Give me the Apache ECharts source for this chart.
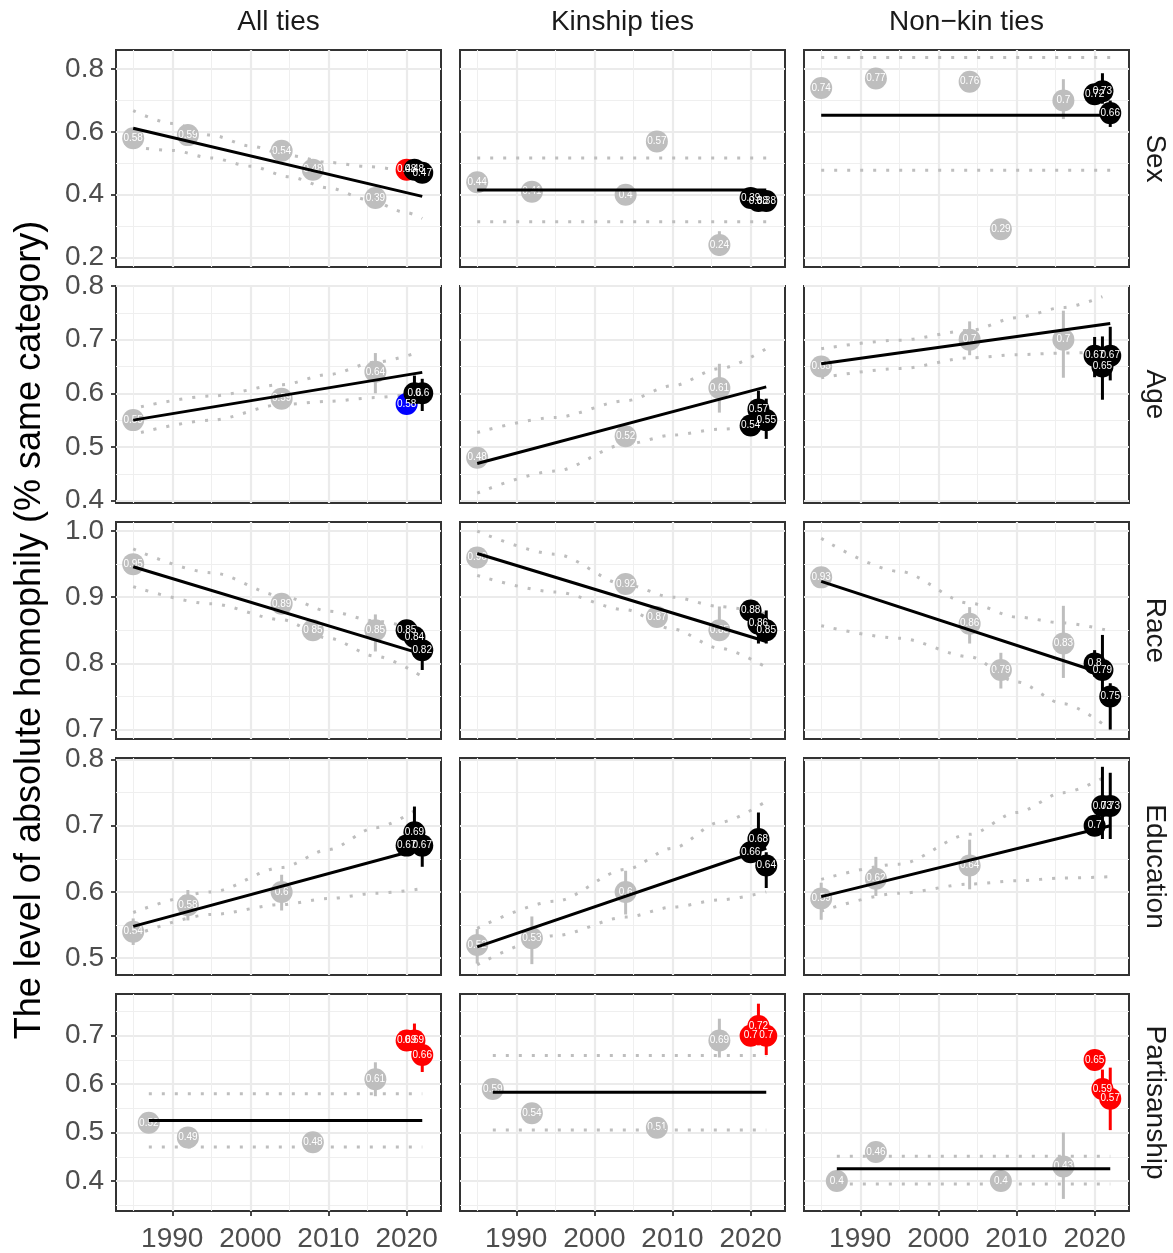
<!DOCTYPE html>
<html><head><meta charset="utf-8">
<script src="https://cdn.jsdelivr.net/npm/echarts@6/dist/echarts.min.js"></script>
<style>html,body{margin:0;padding:0;background:#fff}#c{width:1173px;height:1253px}</style>
</head><body><div id="c"></div>
<script>
// ---------- facet labels & ticks ----------
const rowNames = ['Sex', 'Age', 'Race', 'Education', 'Partisanship'];
const colNames = ['All ties', 'Kinship ties', 'Non\u2212kin ties'];
const yTitle = 'The level of absolute homophily (% same category)';
const xMajor = [1990, 2000, 2010, 2020];
const xMinor = [1985, 1995, 2005, 2015];
const xLimits = [1982.8, 2024.4];
const rowYMin = [0.17, 0.3955, 0.6857, 0.4746, 0.338];
const rowYMax = [0.861, 0.80, 1.0137, 0.8023, 0.786];
const rowYMajor = [[0.2, 0.4, 0.6, 0.8], [0.4, 0.5, 0.6, 0.7, 0.8], [0.7, 0.8, 0.9, 1.0], [0.5, 0.6, 0.7, 0.8], [0.4, 0.5, 0.6, 0.7]];
const rowYMinor = [[0.3, 0.5, 0.7], [0.45, 0.55, 0.65, 0.75], [0.75, 0.85, 0.95], [0.55, 0.65, 0.75], [0.35, 0.45, 0.55, 0.65, 0.75]];

// ---------- panel data (g = earlier survey, k/r/b = recent survey colour) ----------
const sexAll = {
  years: [1985, 1992, 2004, 2008, 2016, 2020, 2021, 2022],
  values: [0.58, 0.59, 0.54, 0.48, 0.39, 0.48, 0.48, 0.47],
  lo: [0.565, 0.575, 0.525, 0.465, 0.365, 0.465, 0.46, 0.455],
  hi: [0.595, 0.605, 0.555, 0.495, 0.415, 0.495, 0.50, 0.485],
  kind: ['g', 'g', 'g', 'g', 'g', 'r', 'k', 'k'],
  fitYears: [1985, 2022], fit: [0.612, 0.395],
  bandYears: [1985, 1990, 1995, 2000, 2005, 2010, 2015, 2020, 2022],
  upper: [0.668, 0.627, 0.59, 0.555, 0.525, 0.503, 0.49, 0.478, 0.472],
  lower: [0.552, 0.541, 0.517, 0.491, 0.457, 0.422, 0.385, 0.343, 0.325]
};
const sexKin = {
  years: [1985, 1992, 2004, 2008, 2016, 2020, 2021, 2022],
  values: [0.44, 0.41, 0.40, 0.57, 0.24, 0.39, 0.38, 0.38],
  lo: [0.425, 0.395, 0.385, 0.555, 0.205, 0.375, 0.36, 0.365],
  hi: [0.455, 0.425, 0.415, 0.585, 0.284, 0.405, 0.40, 0.395],
  kind: ['g', 'g', 'g', 'g', 'g', 'k', 'k', 'k'],
  fitYears: [1985, 2022], fit: [0.415, 0.415],
  bandYears: [1985, 2022], upper: [0.517, 0.517], lower: [0.314, 0.314]
};
const sexNonkin = {
  years: [1985, 1992, 2004, 2008, 2016, 2020, 2021, 2022],
  values: [0.74, 0.77, 0.76, 0.29, 0.70, 0.72, 0.73, 0.66],
  lo: [0.725, 0.755, 0.745, 0.275, 0.641, 0.705, 0.69, 0.616],
  hi: [0.755, 0.785, 0.775, 0.305, 0.768, 0.735, 0.787, 0.70],
  kind: ['g', 'g', 'g', 'g', 'g', 'k', 'k', 'k'],
  fitYears: [1985, 2022], fit: [0.653, 0.653],
  bandYears: [1985, 2022], upper: [0.837, 0.837], lower: [0.478, 0.478]
};
const ageAll = {
  years: [1985, 2004, 2016, 2020, 2021, 2022],
  values: [0.55, 0.59, 0.64, 0.58, 0.60, 0.60],
  lo: [0.54, 0.575, 0.60, 0.57, 0.57, 0.567],
  hi: [0.56, 0.605, 0.675, 0.59, 0.633, 0.627],
  kind: ['g', 'g', 'g', 'b', 'k', 'k'],
  fitYears: [1985, 2022], fit: [0.55, 0.639],
  bandYears: [1986, 1995, 2004, 2010, 2016, 2021],
  upper: [0.575, 0.595, 0.616, 0.635, 0.658, 0.674],
  lower: [0.527, 0.55, 0.579, 0.585, 0.592, 0.60]
};
const ageKin = {
  years: [1985, 2004, 2016, 2020, 2021, 2022],
  values: [0.48, 0.52, 0.61, 0.54, 0.57, 0.55],
  lo: [0.464, 0.50, 0.564, 0.53, 0.545, 0.515],
  hi: [0.49, 0.535, 0.655, 0.55, 0.605, 0.59],
  kind: ['g', 'g', 'g', 'k', 'k', 'k'],
  fitYears: [1985, 2022], fit: [0.469, 0.612],
  bandYears: [1985, 1995, 2004, 2010, 2016, 2022],
  upper: [0.527, 0.555, 0.586, 0.614, 0.646, 0.683],
  lower: [0.414, 0.455, 0.505, 0.522, 0.533, 0.541]
};
const ageNonkin = {
  years: [1985, 2004, 2016, 2020, 2021, 2022],
  values: [0.65, 0.70, 0.70, 0.67, 0.65, 0.67],
  lo: [0.64, 0.671, 0.629, 0.63, 0.588, 0.624],
  hi: [0.665, 0.734, 0.754, 0.705, 0.706, 0.724],
  kind: ['g', 'g', 'g', 'k', 'k', 'k'],
  fitYears: [1985, 2022], fit: [0.655, 0.73],
  bandYears: [1985, 1995, 2004, 2010, 2016, 2021],
  upper: [0.683, 0.699, 0.717, 0.741, 0.76, 0.78],
  lower: [0.629, 0.646, 0.666, 0.672, 0.675, 0.677]
};
const raceAll = {
  years: [1985, 2004, 2008, 2016, 2020, 2021, 2022],
  values: [0.95, 0.89, 0.85, 0.85, 0.85, 0.84, 0.82],
  lo: [0.94, 0.875, 0.84, 0.818, 0.84, 0.825, 0.79],
  hi: [0.96, 0.905, 0.86, 0.874, 0.865, 0.855, 0.835],
  kind: ['g', 'g', 'g', 'g', 'k', 'k', 'k'],
  fitYears: [1985, 2022], fit: [0.946, 0.814],
  bandYears: [1985, 1995, 2004, 2010, 2016, 2022],
  upper: [0.973, 0.937, 0.902, 0.879, 0.864, 0.849],
  lower: [0.916, 0.89, 0.866, 0.838, 0.811, 0.78]
};
const raceKin = {
  years: [1985, 2004, 2008, 2016, 2020, 2021, 2022],
  values: [0.96, 0.92, 0.87, 0.85, 0.88, 0.86, 0.85],
  lo: [0.95, 0.905, 0.86, 0.836, 0.87, 0.83, 0.83],
  hi: [0.97, 0.93, 0.88, 0.886, 0.89, 0.865, 0.88],
  kind: ['g', 'g', 'g', 'g', 'k', 'k', 'k'],
  fitYears: [1985, 2022], fit: [0.966, 0.833],
  bandYears: [1985, 1995, 2004, 2010, 2016, 2022],
  upper: [1.0, 0.965, 0.919, 0.90, 0.886, 0.875],
  lower: [0.933, 0.908, 0.881, 0.852, 0.823, 0.794]
};
const raceNonkin = {
  years: [1985, 2004, 2008, 2016, 2020, 2021, 2022],
  values: [0.93, 0.86, 0.79, 0.83, 0.80, 0.79, 0.75],
  lo: [0.92, 0.83, 0.762, 0.778, 0.78, 0.74, 0.70],
  hi: [0.94, 0.885, 0.816, 0.887, 0.82, 0.843, 0.77],
  kind: ['g', 'g', 'g', 'g', 'k', 'k', 'k'],
  fitYears: [1985, 2022], fit: [0.924, 0.781],
  bandYears: [1985, 1995, 2004, 2010, 2016, 2022],
  upper: [0.989, 0.939, 0.891, 0.87, 0.861, 0.849],
  lower: [0.857, 0.838, 0.81, 0.772, 0.739, 0.70]
};
const eduAll = {
  years: [1985, 1992, 2004, 2020, 2021, 2022],
  values: [0.54, 0.58, 0.60, 0.67, 0.69, 0.67],
  lo: [0.52, 0.557, 0.572, 0.655, 0.66, 0.638],
  hi: [0.56, 0.603, 0.626, 0.685, 0.729, 0.69],
  kind: ['g', 'g', 'g', 'k', 'k', 'k'],
  fitYears: [1985, 2022], fit: [0.548, 0.666],
  bandYears: [1985, 1995, 2004, 2010, 2016, 2022],
  upper: [0.569, 0.60, 0.637, 0.664, 0.697, 0.73],
  lower: [0.534, 0.566, 0.581, 0.59, 0.598, 0.605]
};
const eduKin = {
  years: [1985, 1992, 2004, 2020, 2021, 2022],
  values: [0.52, 0.53, 0.60, 0.66, 0.68, 0.64],
  lo: [0.492, 0.491, 0.566, 0.645, 0.65, 0.606],
  hi: [0.544, 0.563, 0.632, 0.675, 0.72, 0.66],
  kind: ['g', 'g', 'g', 'k', 'k', 'k'],
  fitYears: [1985, 2022], fit: [0.517, 0.666],
  bandYears: [1985, 1995, 2004, 2010, 2016, 2022],
  upper: [0.545, 0.586, 0.634, 0.666, 0.705, 0.737],
  lower: [0.49, 0.534, 0.562, 0.577, 0.588, 0.60]
};
const eduNonkin = {
  years: [1985, 1992, 2004, 2020, 2021, 2022],
  values: [0.59, 0.62, 0.64, 0.70, 0.73, 0.73],
  lo: [0.558, 0.594, 0.604, 0.685, 0.68, 0.68],
  hi: [0.614, 0.653, 0.679, 0.715, 0.789, 0.78],
  kind: ['g', 'g', 'g', 'k', 'k', 'k'],
  fitYears: [1985, 2022], fit: [0.593, 0.70],
  bandYears: [1985, 1995, 2004, 2010, 2016, 2022],
  upper: [0.619, 0.642, 0.687, 0.72, 0.75, 0.778],
  lower: [0.571, 0.598, 0.612, 0.617, 0.621, 0.623]
};
const partyAll = {
  years: [1987, 1992, 2008, 2016, 2020, 2021, 2022],
  values: [0.52, 0.49, 0.48, 0.61, 0.69, 0.69, 0.66],
  lo: [0.505, 0.475, 0.465, 0.575, 0.67, 0.655, 0.625],
  hi: [0.535, 0.505, 0.495, 0.645, 0.71, 0.725, 0.695],
  kind: ['g', 'g', 'g', 'g', 'r', 'r', 'r'],
  fitYears: [1987, 2022], fit: [0.525, 0.525],
  bandYears: [1987, 2022], upper: [0.58, 0.58], lower: [0.47, 0.47]
};
const partyKin = {
  years: [1987, 1992, 2008, 2016, 2020, 2021, 2022],
  values: [0.59, 0.54, 0.51, 0.69, 0.70, 0.72, 0.70],
  lo: [0.575, 0.525, 0.495, 0.655, 0.685, 0.68, 0.66],
  hi: [0.605, 0.555, 0.525, 0.735, 0.715, 0.766, 0.72],
  kind: ['g', 'g', 'g', 'g', 'r', 'r', 'r'],
  fitYears: [1987, 2022], fit: [0.583, 0.583],
  bandYears: [1987, 2022], upper: [0.659, 0.659], lower: [0.505, 0.505]
};
const partyNonkin = {
  years: [1987, 1992, 2008, 2016, 2020, 2021, 2022],
  values: [0.40, 0.46, 0.40, 0.43, 0.65, 0.59, 0.57],
  lo: [0.385, 0.44, 0.385, 0.363, 0.635, 0.56, 0.505],
  hi: [0.415, 0.475, 0.415, 0.50, 0.665, 0.63, 0.634],
  kind: ['g', 'g', 'g', 'g', 'r', 'r', 'r'],
  fitYears: [1987, 2022], fit: [0.425, 0.425],
  bandYears: [1987, 2022], upper: [0.451, 0.451], lower: [0.394, 0.394]
};
const panels = [
  [sexAll, sexKin, sexNonkin],
  [ageAll, ageKin, ageNonkin],
  [raceAll, raceKin, raceNonkin],
  [eduAll, eduKin, eduNonkin],
  [partyAll, partyKin, partyNonkin]
];

// ---------- layout & style ----------
const GRID_LEFT = [116, 460, 804];
const GRID_TOP = [50, 286, 522, 758, 994];
const GRID_W = 325, GRID_H = 217;
const FF = "'Liberation Sans', Arial, Helvetica, sans-serif";
const FS = 28, FS_STRIP = 28, FS_TITLE = 36;
const kindColor = { g: '#BEBEBE', k: '#000000', r: '#FF0000', b: '#0000FF' };
const GRID_MAJOR = { color: '#EBEBEB', width: 2.2 };
const GRID_MINOR = { color: '#EFEFEF', width: 1.1 };

const grids = [], xAxes = [], yAxes = [], series = [];

panels.forEach((row, r) => row.forEach((d, c) => {
  const gi = grids.length;
  grids.push({ left: GRID_LEFT[c], top: GRID_TOP[r], width: GRID_W, height: GRID_H,
    show: true, borderColor: '#333333', borderWidth: 2, backgroundColor: '#fff' });
  const xi = xAxes.length, yi = yAxes.length;
  xAxes.push({ gridIndex: gi, type: 'value', min: xLimits[0], max: xLimits[1], position: 'bottom',
    axisLine: { show: false, onZero: false },
    axisTick: { show: r === 4, customValues: xMajor, length: 5, lineStyle: { color: '#333', width: 1.8 } },
    axisLabel: { show: r === 4, customValues: xMajor, fontSize: FS, color: '#4D4D4D', margin: 14, fontFamily: FF,
      formatter: v => String(v) },
    splitLine: { show: true, lineStyle: GRID_MAJOR } });
  xAxes.push({ gridIndex: gi, type: 'value', min: xLimits[0], max: xLimits[1], position: 'top',
    axisLine: { show: false, onZero: false }, axisTick: { show: false, customValues: xMinor },
    axisLabel: { show: false }, splitLine: { show: true, lineStyle: GRID_MINOR } });
  yAxes.push({ gridIndex: gi, type: 'value', min: rowYMin[r], max: rowYMax[r], position: 'left',
    axisLine: { show: false, onZero: false },
    axisTick: { show: c === 0, customValues: rowYMajor[r], length: 5, lineStyle: { color: '#333', width: 1.8 } },
    axisLabel: { show: c === 0, customValues: rowYMajor[r], fontSize: FS, color: '#4D4D4D', margin: 12, fontFamily: FF,
      formatter: v => v.toFixed(1) },
    splitLine: { show: true, lineStyle: GRID_MAJOR } });
  yAxes.push({ gridIndex: gi, type: 'value', min: rowYMin[r], max: rowYMax[r], position: 'right',
    axisLine: { show: false, onZero: false }, axisTick: { show: false, customValues: rowYMinor[r] },
    axisLabel: { show: false }, splitLine: { show: true, lineStyle: GRID_MINOR } });

  const idx = d.years.map((_, i) => i);
  const grey = idx.filter(i => d.kind[i] === 'g');
  const recent = idx.filter(i => d.kind[i] !== 'g');

  const errSeries = (ids, z) => ({
    type: 'custom', xAxisIndex: xi, yAxisIndex: yi, z: z, silent: true, clip: false,
    data: ids.map(i => ({ value: [d.years[i], d.lo[i], d.hi[i]], itemStyle: { color: kindColor[d.kind[i]] } })),
    encode: { x: 0, y: [1, 2] },
    renderItem: (params, api) => {
      const a = api.coord([api.value(0), api.value(1)]);
      const b = api.coord([api.value(0), api.value(2)]);
      return { type: 'line', shape: { x1: a[0], y1: a[1], x2: b[0], y2: b[1] },
        style: { stroke: api.visual('color'), lineWidth: 3 } };
    }
  });
  const pointSeries = (ids, z) => ({
    type: 'scatter', xAxisIndex: xi, yAxisIndex: yi, z: z, silent: true, symbolSize: 22,
    itemStyle: { opacity: 1 },
    data: ids.map(i => ({ value: [d.years[i], d.values[i]], itemStyle: { color: kindColor[d.kind[i]], opacity: 1 } })),
    label: { show: true, position: 'inside', color: '#fff', fontSize: 10, fontFamily: FF,
      formatter: p => String(p.value[1]) }
  });
  const lineSeries = (xs, ys, style, z) => ({
    type: 'line', xAxisIndex: xi, yAxisIndex: yi, z: z, silent: true, symbol: 'none',
    smooth: xs.length > 2 ? 0.3 : false, smoothMonotone: 'x',
    data: xs.map((x, i) => [x, ys[i]]), lineStyle: style
  });

  series.push(errSeries(grey, 2));
  series.push(pointSeries(grey, 3));
  series.push(lineSeries(d.bandYears, d.upper, { color: '#BEBEBE', width: 3, type: [3, 10], cap: 'butt' }, 4));
  series.push(lineSeries(d.bandYears, d.lower, { color: '#BEBEBE', width: 3, type: [3, 10], cap: 'butt' }, 4));
  series.push(lineSeries(d.fitYears, d.fit, { color: '#000', width: 3 }, 5));
  series.push(errSeries(recent, 6));
  series.push(pointSeries(recent, 7));
}));

const graphics = [];
colNames.forEach((t, c) => graphics.push({ type: 'text', x: GRID_LEFT[c] + GRID_W / 2, y: 22, silent: true,
  style: { text: t, fontSize: FS_STRIP, fontFamily: FF, fill: '#1A1A1A', textAlign: 'center', textVerticalAlign: 'middle', align: 'center', verticalAlign: 'middle' } }));
rowNames.forEach((t, r) => graphics.push({ type: 'text', x: 1155, y: GRID_TOP[r] + GRID_H / 2, rotation: -Math.PI / 2, silent: true,
  style: { text: t, fontSize: FS_STRIP, fontFamily: FF, fill: '#1A1A1A', textAlign: 'center', textVerticalAlign: 'middle', align: 'center', verticalAlign: 'middle' } }));
graphics.push({ type: 'text', x: 30, y: 630, rotation: Math.PI / 2, silent: true,
  style: { text: yTitle, fontSize: FS_TITLE, fontFamily: FF, fill: '#000', textAlign: 'center', textVerticalAlign: 'middle', align: 'center', verticalAlign: 'middle' } });

const chart = echarts.init(document.getElementById('c'), null, { renderer: 'canvas' });
chart.setOption({
  animation: false,
  backgroundColor: '#fff',
  grid: grids, xAxis: xAxes, yAxis: yAxes, series: series,
  graphic: graphics
});
</script></body></html>
